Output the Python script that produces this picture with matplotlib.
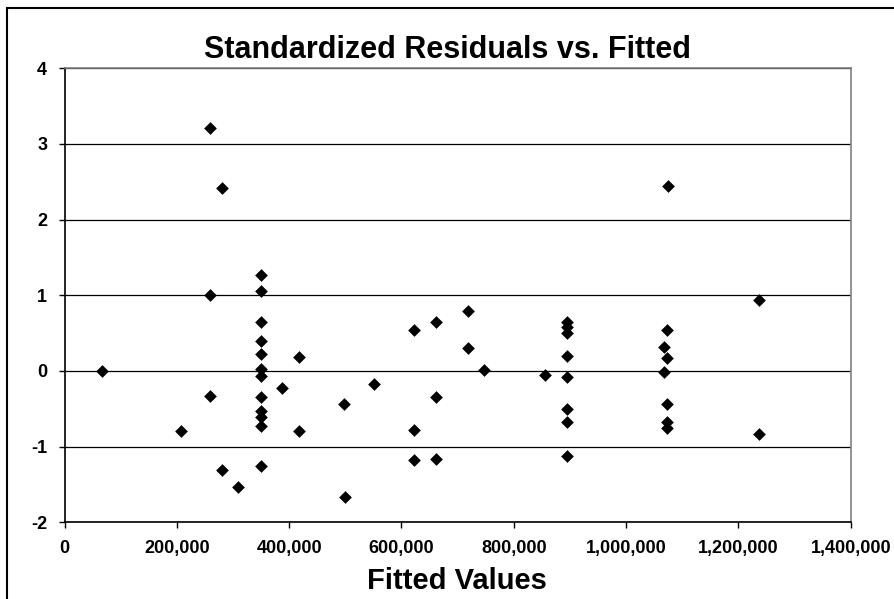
import matplotlib
matplotlib.use("Agg")
import matplotlib.pyplot as plt
from matplotlib.patches import Rectangle
from matplotlib.ticker import FuncFormatter

plt.rcParams['font.family'] = ['Liberation Sans', 'DejaVu Sans']
plt.rcParams['axes.unicode_minus'] = False

# fitted values and standardized residuals
fitted = [66300, 206900, 259100, 259100, 259100, 280000, 280000, 309500,
          349400, 349400, 349400, 349400, 349400, 349400, 349400, 349400,
          349400, 349400, 349400, 349400, 386800, 417600, 417600,
          497300, 499600, 551800, 623000, 623000, 623000, 662200, 662200, 662200,
          718100, 718100, 747100, 855700,
          894400, 894400, 894400, 894400, 894400, 894400, 894400, 894400,
          1067700, 1067700, 1073600, 1073600, 1073600, 1073600, 1073600, 1074300,
          1236900, 1237100]
resid = [0.00, -0.79, 3.21, 1.01, -0.33, 2.42, -1.31, -1.53,
         1.27, 1.06, 0.65, 0.40, 0.23, 0.03, -0.07, -0.35,
         -0.53, -0.61, -0.73, -1.26, -0.23, 0.18, -0.79,
         -0.44, -1.67, -0.17, 0.54, -0.78, -1.17, 0.65, -0.34, -1.16,
         0.79, 0.31, 0.01, -0.05,
         0.65, 0.58, 0.50, 0.20, -0.08, -0.50, -0.68, -1.12,
         0.32, -0.02, 0.54, 0.17, -0.43, -0.68, -0.75, 2.44,
         0.94, -0.83]

x_ticks = [0, 200000, 400000, 600000, 800000, 1000000, 1200000, 1400000]
y_ticks = [-2, -1, 0, 1, 2, 3, 4]

fig = plt.figure(figsize=(8.94, 5.99), dpi=100)
ax = fig.add_axes([0.0722, 0.128, 0.8794, 0.758])

ax.scatter(fitted, resid, marker='D', s=42, color='black', zorder=3, linewidths=0)

ax.set_xlim(0, 1400000)
ax.set_ylim(-2, 4)
ax.set_xticks(x_ticks)
ax.set_yticks(y_ticks)
ax.xaxis.set_major_formatter(FuncFormatter(lambda v, p: f"{int(v):,}"))
ax.grid(axis='y', color='black', linewidth=0.9)
ax.set_axisbelow(True)

for lbl in ax.get_xticklabels() + ax.get_yticklabels():
    lbl.set_fontweight('bold')
    lbl.set_fontsize(13)
ax.tick_params(axis='both', direction='out', length=4.5, width=1, color='black')
ax.tick_params(axis='x', pad=8)
ax.tick_params(axis='y', pad=8)

ax.spines['left'].set_color('black')
ax.spines['bottom'].set_color('black')
ax.spines['top'].set_color('#808080')
ax.spines['right'].set_color('#808080')
for s in ax.spines.values():
    s.set_linewidth(1.2)

fig.text(0.5, 1 - 58 / 599, "Standardized Residuals vs. Fitted", fontsize=22,
         fontweight='bold', ha='center', va='baseline')
fig.text(0.511, 1 - 589 / 599, "Fitted Values", fontsize=21,
         fontweight='bold', ha='center', va='baseline')

# outer chart frame (runs off the right and bottom edges)
fig.patches.append(Rectangle((7 / 894, -0.1), 1.2, 1.1 - 8 / 599, transform=fig.transFigure,
                             fill=False, edgecolor='black', linewidth=1.5))

fig.savefig("out.png", dpi=100)
